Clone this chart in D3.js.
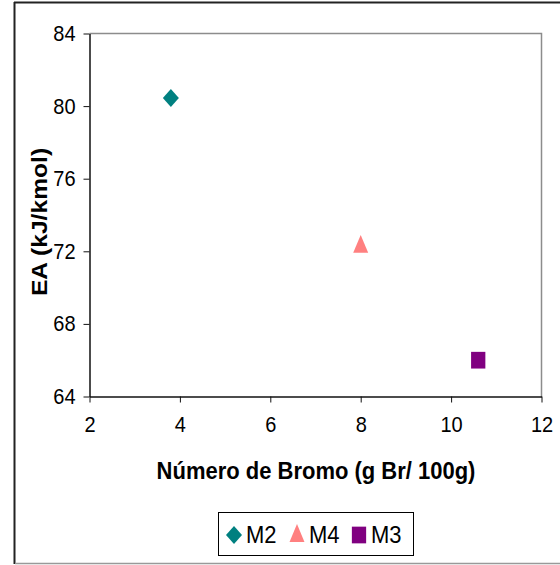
<!DOCTYPE html>
<html>
<head>
<meta charset="utf-8">
<script src="https://cdn.jsdelivr.net/npm/d3@7"></script>
<style>
  body { margin: 0; background: #fff; }
  svg text { font-family: "Liberation Sans", Arial, sans-serif; }
</style>
</head>
<body>
<svg width="560" height="565"></svg>
<script>
var svg = d3.select("svg");

// data
var names = ["M2", "M4", "M3"];
var bromo = [3.8, 8.0, 10.6];     // Número de Bromo (g Br/ 100g)
var ea = [80.45, 72.3, 66.0];     // EA (kJ/kmol)
var colors = ["#008080", "#ff8080", "#800080"];
var xTicks = [2, 4, 6, 8, 10, 12];
var yTicks = [64, 68, 72, 76, 80, 84];

var x = d3.scaleLinear().domain([2, 12]).range([89.5, 541.5]);
var y = d3.scaleLinear().domain([64, 84]).range([396.5, 33.5]);

// marker shapes: diamond, triangle, square (a bit taller than wide, like the original)
var marker = function (i) {
  if (i == 0) return { d: d3.symbol().type(d3.symbolSquare).size(128)(), t: "scale(1,1.13) rotate(45)" };
  if (i == 1) return { d: d3.symbol().type(d3.symbolTriangle).size(97)(), t: "translate(0,1) scale(1,1.38)" };
  return { d: d3.symbol().type(d3.symbolSquare).size(204)(), t: "scale(1,1.17)" };
};

// outer chart frame
svg.append("line").attr("x1", 14.5).attr("x2", 14.5).attr("y1", 2).attr("y2", 564)
  .attr("stroke", "#222").attr("stroke-width", 2);
svg.append("line").attr("x1", 14).attr("x2", 560).attr("y1", 2.5).attr("y2", 2.5)
  .attr("stroke", "#222").attr("stroke-width", 2);
svg.append("line").attr("x1", 15).attr("x2", 560).attr("y1", 563.5).attr("y2", 563.5)
  .attr("stroke", "#999").attr("stroke-width", 1.5);

// plot area border (top and right in grey)
svg.append("path")
  .attr("d", "M" + x(2) + "," + y(84) + "H" + x(12) + "V" + y(64))
  .attr("fill", "none").attr("stroke", "#8c8c8c").attr("stroke-width", 1.5);

var xAxis = svg.append("g")
  .attr("transform", "translate(0," + y(64) + ")")
  .call(d3.axisBottom(x).tickValues(xTicks).tickSize(6).tickPadding(13).tickSizeOuter(0));
var yAxis = svg.append("g")
  .attr("transform", "translate(" + x(2) + ",0)")
  .call(d3.axisLeft(y).tickValues(yTicks).tickSize(6).tickPadding(8).tickSizeOuter(0));

[xAxis, yAxis].forEach(function (g) {
  g.select(".domain").attr("stroke", "#111").attr("stroke-width", 1.5);
  g.selectAll(".tick line").attr("stroke", "#111");
  g.selectAll("text").attr("font-size", 20).attr("fill", "#000")
    .attr("transform", "scale(1,1.08)");
});

// markers
svg.selectAll("path.pt")
  .data(names)
  .enter().append("path")
  .attr("class", "pt")
  .attr("d", function (d, i) { return marker(i).d; })
  .attr("fill", function (d, i) { return colors[i]; })
  .attr("transform", function (d, i) {
    return "translate(" + x(bromo[i]) + "," + y(ea[i]) + ") " + marker(i).t;
  });

// axis titles
svg.append("text")
  .text("Número de Bromo (g Br/ 100g)")
  .attr("transform", "translate(316,479) scale(1,1.12)")
  .attr("text-anchor", "middle").attr("font-weight", "bold").attr("font-size", 22);

svg.append("text")
  .text("EA (kJ/kmol)")
  .attr("transform", "translate(47,222) scale(1,1.12) rotate(-90)")
  .attr("text-anchor", "middle").attr("font-weight", "bold").attr("font-size", 22);

// legend
svg.append("rect").attr("x", 218.5).attr("y", 512.5).attr("width", 195).attr("height", 43)
  .attr("fill", "#fff").attr("stroke", "#000").attr("stroke-width", 1);

var legendX = [234, 297, 359];
var item = svg.selectAll("g.leg").data(names).enter().append("g")
  .attr("class", "leg")
  .attr("transform", function (d, i) { return "translate(" + legendX[i] + ",535)"; });
item.append("path")
  .attr("d", function (d, i) { return marker(i).d; })
  .attr("fill", function (d, i) { return colors[i]; })
  .attr("transform", function (d, i) { return marker(i).t; });
item.append("text")
  .text(function (d) { return d; })
  .attr("transform", "translate(12,8) scale(1,1.1)")
  .attr("font-size", 22);
</script>
</body>
</html>
